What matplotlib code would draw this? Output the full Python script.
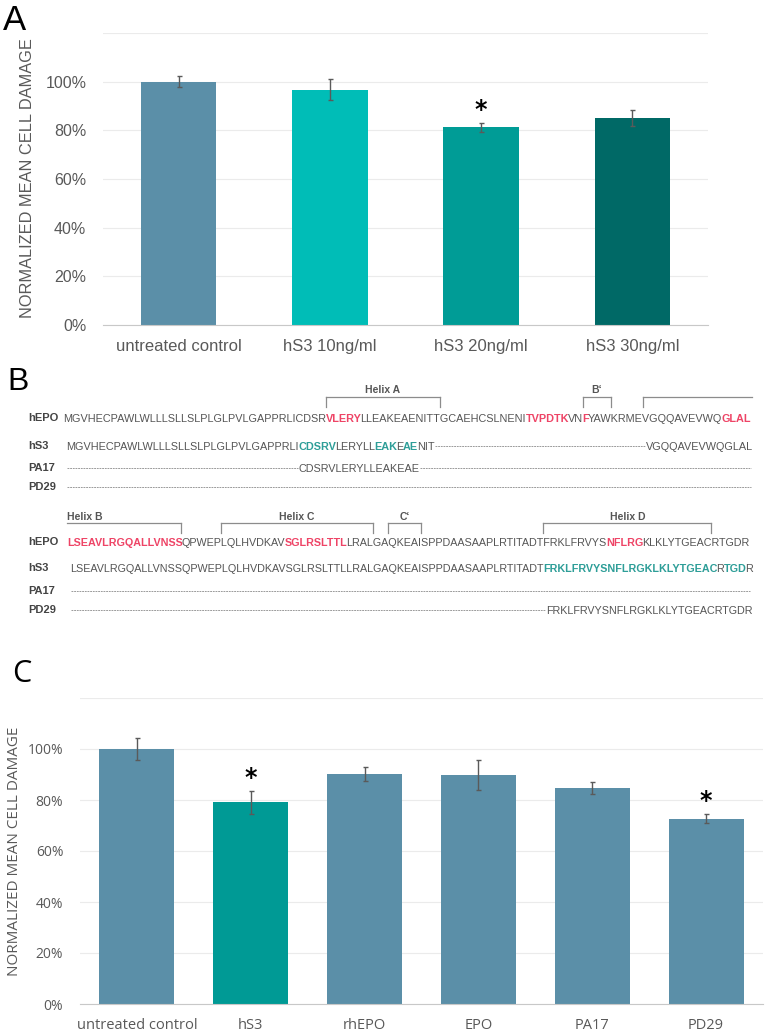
import numpy as np
import matplotlib.pyplot as plt
from matplotlib.lines import Line2D

# ---- panel A data ----
a_labels = ["untreated control", "hS3 10ng/ml", "hS3 20ng/ml", "hS3 30ng/ml"]
a_means = [100.0, 96.6, 81.2, 85.0]
a_errs = [2.3, 4.3, 1.7, 3.3]
a_colors = ["#5B8FA8", "#00BDB7", "#009C96", "#006966"]
a_stars = [False, False, True, False]

# ---- panel C data ----
c_labels = ["untreated control", "hS3", "rhEPO", "EPO", "PA17", "PD29"]
c_means = [100.0, 79.1, 90.2, 89.7, 84.7, 72.7]
c_errs = [4.4, 4.4, 2.7, 5.8, 2.4, 1.7]
c_colors = ["#5B8FA8", "#009A95", "#5B8FA8", "#5B8FA8", "#5B8FA8", "#5B8FA8"]
c_stars = [False, True, False, False, False, True]

# ---- panel B sequences (n = plain, r = red bold, t = teal bold) ----
row_names = ["hEPO", "hS3", "PA17", "PD29"]
hepo_1 = [("MGVHECPAWLWLLLSLLSLPLGLPVLGAPPRLICDSR", "n"), ("VLERY", "r"),
          ("LLEAKEAENITTGCAEHCSLNENI", "n"), ("TVPDTK", "r"), ("VN", "n"),
          ("F", "r"), ("YAWKRMEVGQQAVEVWQ", "n"), ("GLAL", "r")]
hs3_1 = [(0, [("MGVHECPAWLWLLLSLLSLPLGLPVLGAPPRLI", "n"), ("CDSRV", "t"), ("LERYLL", "n"),
              ("EAK", "t"), ("E", "n"), ("AE", "t"), ("NIT", "n")]),
         (82, [("VGQQAVEVWQGLAL", "n")])]
pa17_1 = [(33, [("CDSRVLERYLLEAKEAE", "n")])]
pd29_1 = []

hepo_2 = [("LSEAVLRGQALLVNSS", "r"), ("QPWEPLQLHVDKAV", "n"), ("SGLRSLTTL", "r"),
          ("LRALGAQKEAISPPDAASAAPLRTITADTFRKLFRVYS", "n"), ("NFLRG", "r"),
          ("KLKLYTGEACRTGDR", "n")]
hs3_2 = [(0, [("LSEAVLRGQALLVNSSQPWEPLQLHVDKAVSGLRSLTTLLRALGAQKEAISPPDAASAAPLRTITADT", "n"),
              ("FRKLFRVYSNFLRGKLKLYTGEAC", "t"), ("R", "n"), ("TGD", "t"), ("R", "n")])]
pa17_2 = []
pd29_2 = [(68, [("FRKLFRVYSNFLRGKLKLYTGEACRTGDR", "n")])]

# brackets: (start index, end index, label, left tick, right tick)
brackets_1 = [(37, 54, "Helix A", True, True), (74, 78, "B\u2018", True, True),
              (82, None, "", True, False)]
brackets_2 = [(0, 16, "Helix B", False, True), (21, 43, "Helix C", True, True),
              (45, 50, "C\u2018", True, True), (68, 92, "Helix D", True, True)]

SEQ_FONT = "Liberation Sans"
COL = {"n": "#555555", "r": "#EE4466", "t": "#2E9E98"}
GRAY = "#595959"

fig = plt.figure(figsize=(7.67, 10.34), dpi=100)
axb = fig.add_axes([0, 0, 1, 1])
axb.set_xlim(0, 767)
axb.set_ylim(1034, 0)
axb.axis("off")
fig.canvas.draw()
renderer = fig.canvas.get_renderer()


def _w(s, size, bold):
    t = axb.text(0, 0, s, fontsize=size, family=SEQ_FONT,
                 fontweight="bold" if bold else "normal")
    w = t.get_window_extent(renderer=renderer).width
    t.remove()
    return w


def tw(s, size, bold):
    if not s:
        return 0.0
    return _w("|" + s + "|", size, bold) - _w("||", size, bold)


def adv(s, size, bold):
    # small-size rendering leaves a gap after each piece; pull the next one in
    return tw(s, size, bold) - (1.4 if bold else 0.2)


def seq_block(hepo, others, brackets, x0, x1, centers, label_y, br_top, br_bot):
    size = 8.0
    total = sum(adv(s, size, st != "n") for s, st in hepo)
    size = size * (x1 - x0) / total

    # x position of each hEPO residue
    xs = []
    x = x0
    for s, st in hepo:
        for k in range(len(s)):
            xs.append(x + tw(s[:k], size, st != "n"))
        x += adv(s, size, st != "n")
    xs.append(x)

    def draw(x, yc, segs):
        for s, st in segs:
            axb.text(x, yc + 4.5, s, fontsize=size, family=SEQ_FONT, color=COL[st],
                     fontweight="normal" if st == "n" else "bold", va="baseline")
            x += adv(s, size, st != "n")
        return x

    def dashes(xa, xb, yc):
        if xb - xa > 3:
            axb.add_line(Line2D([xa + 1, xb - 1], [yc, yc], color="#8A8A8A", lw=0.6,
                                linestyle=(0, (2.2, 1.0))))

    draw(x0, centers[0], hepo)
    for row, yc in zip(others, centers[1:]):
        cur = x0 + 3
        for idx, segs in row:
            xa = xs[idx] + 3
            dashes(cur, xa, yc)
            cur = draw(max(xa, cur), yc, segs)
        dashes(cur, x1, yc)

    for name, yc in zip(row_names, centers):
        axb.text(28, yc, name, fontsize=8, family=SEQ_FONT, fontweight="bold",
                 color="#444444", va="center")

    for i0, i1, lab, lt, rt in brackets:
        xa = xs[i0]
        xb = xs[i1] if i1 is not None else x1
        axb.plot([xa, xb], [br_top, br_top], color="#8C8C8C", lw=0.9)
        if lt:
            axb.plot([xa, xa], [br_top, br_bot], color="#8C8C8C", lw=0.9)
        if rt:
            axb.plot([xb, xb], [br_top, br_bot], color="#8C8C8C", lw=0.9)
        if lab:
            if lt:
                axb.text((xa + xb) / 2, label_y, lab, ha="center", va="center",
                         fontsize=7.5, family=SEQ_FONT, fontweight="bold", color="#555555")
            else:
                axb.text(xa, label_y, lab, ha="left", va="center",
                         fontsize=7.5, family=SEQ_FONT, fontweight="bold", color="#555555")


seq_block(hepo_1, [hs3_1, pa17_1, pd29_1], brackets_1, 63, 752,
          [418, 446, 468, 487], 390, 397, 407)
seq_block(hepo_2, [hs3_2, pa17_2, pd29_2], brackets_2, 67, 751,
          [542, 568, 591, 610], 517, 523, 533)


def bar_panel(ax, labels, means, errs, colors, stars, width, font, size):
    x = np.arange(len(labels))
    ax.bar(x, means, width=width, color=colors, zorder=2,
           yerr=errs, error_kw=dict(ecolor="#5A5A5A", elinewidth=1, capsize=1.8, capthick=1))
    for i in range(len(labels)):
        if stars[i]:
            ax.text(x[i], means[i] + errs[i] + 5.3, "*", ha="center", va="center",
                    fontsize=17, fontweight="bold", color="black")
    ax.set_xlim(-0.5, len(labels) - 0.5)
    ax.set_ylim(0, 120)
    ticks = list(range(0, 121, 20))
    ax.set_yticks(ticks)
    ax.set_yticklabels([f"{t}%" if t <= 100 else "" for t in ticks],
                       family=font, fontsize=size, color=GRAY)
    ax.set_xticks(x)
    ax.set_xticklabels(labels, family=font, fontsize=size + 0.5, color=GRAY)
    ax.grid(axis="y", color="#EBEBEB", lw=0.8, zorder=0)
    for s in ["top", "right", "left"]:
        ax.spines[s].set_visible(False)
    ax.spines["bottom"].set_color("#C8C8C8")
    ax.tick_params(length=0)
    ax.tick_params(axis="y", pad=12)
    ax.tick_params(axis="x", pad=10)
    ax.set_facecolor("none")


axA = fig.add_axes([103 / 767, 1 - 325 / 1034, 605 / 767, 292 / 1034])
bar_panel(axA, a_labels, a_means, a_errs, a_colors, a_stars, 0.5, "Liberation Sans", 11.5)

axC = fig.add_axes([80 / 767, 1 - 1004 / 1034, 683 / 767, 306 / 1034])
bar_panel(axC, c_labels, c_means, c_errs, c_colors, c_stars, 0.66, "Open Sans", 10)

axb.text(28, 178, "NORMALIZED MEAN CELL DAMAGE", rotation=90, ha="center", va="center",
         family="Liberation Sans", fontsize=11.8, color=GRAY)
axb.text(15, 851, "NORMALIZED MEAN CELL DAMAGE", rotation=90, ha="center", va="center",
         family="Open Sans", fontsize=11, color=GRAY)

axb.text(3, 30, "A", family="Liberation Sans", fontsize=25, va="baseline")
axb.text(7, 390, "B", family="Liberation Sans", fontsize=23, va="baseline")
axb.text(12, 682, "C", family="Open Sans", fontsize=22, va="baseline")

fig.savefig("out.png", dpi=100)
